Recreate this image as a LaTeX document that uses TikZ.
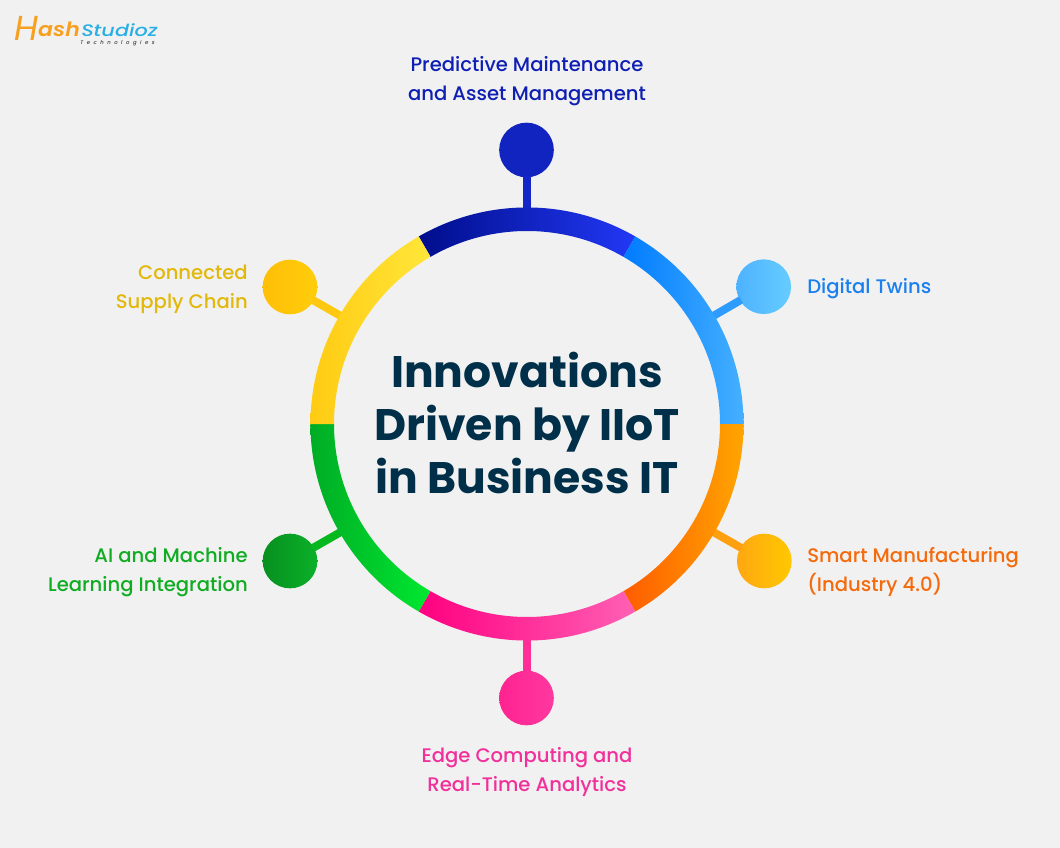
\documentclass[tikz,border=0pt]{standalone}
\usepackage{fontspec}
\setmainfont{Poppins}
\newfontfamily\labelfont{Poppins Medium}
\newfontfamily\titlefont{Poppins Bold}
\newfontfamily\logoH{Poppins Italic}
\newfontfamily\logoash[FakeStretch=1.12]{Poppins SemiBold Italic}
\newfontfamily\logostudio[FakeStretch=1.25]{Poppins Medium Italic}
\newfontfamily\logotiny[LetterSpace=66]{Poppins Medium Italic}
\usetikzlibrary{calc}
\definecolor{bgc}{HTML}{F1F1F1}
\definecolor{navy}{HTML}{003049}
\definecolor{lbblue}{HTML}{0F1FB4}
\definecolor{lbsky}{HTML}{1A7FEF}
\definecolor{lborange}{HTML}{F46A0C}
\definecolor{lbpink}{HTML}{F2309B}
\definecolor{lbgreen}{HTML}{10AC22}
\definecolor{lbyellow}{HTML}{E2B80A}
\definecolor{c1a}{HTML}{000E8C}\definecolor{c1b}{HTML}{2238F5}
\definecolor{c2a}{HTML}{007BFF}\definecolor{c2b}{HTML}{45B0FF}
\definecolor{c3a}{HTML}{FF5C00}\definecolor{c3b}{HTML}{FFA500}
\definecolor{c4a}{HTML}{FF0080}\definecolor{c4b}{HTML}{FF60B4}
\definecolor{c5a}{HTML}{00AC25}\definecolor{c5b}{HTML}{00E830}
\definecolor{c6a}{HTML}{FFCB12}\definecolor{c6b}{HTML}{FFE63A}
\definecolor{d1}{HTML}{1224C0}\definecolor{d2a}{HTML}{4DB2FF}\definecolor{d2b}{HTML}{66CCFF}
\definecolor{d3a}{HTML}{FFA712}\definecolor{d3b}{HTML}{FFC800}
\definecolor{d4a}{HTML}{FF2390}\definecolor{d4b}{HTML}{FF38A0}
\definecolor{d5a}{HTML}{07901F}\definecolor{d5b}{HTML}{0BB029}
\definecolor{d6a}{HTML}{FFBF08}\definecolor{d6b}{HTML}{FFCD0A}
\definecolor{s1}{HTML}{1426C8}\definecolor{s2}{HTML}{2E9BFF}\definecolor{s3}{HTML}{FFA010}
\definecolor{s4}{HTML}{FF2F97}\definecolor{s5}{HTML}{06B820}\definecolor{s6}{HTML}{FFC810}
\definecolor{logoO}{HTML}{F7A01E}\definecolor{logoB}{HTML}{28AFE6}\definecolor{logoK}{HTML}{3C3C3C}
\tikzset{
  px/.style={x=0.75pt,y=-0.75pt},
  lab/.style={font=\labelfont\fontsize{14.7}{21.75}\selectfont,inner sep=0pt},
  dot/.style={circle,minimum size=41pt,inner sep=0pt},
  stem/.style={line width=6pt,shorten <=-1pt}
}
\newcommand{\seg}[4]{%
  \shade[left color=#3,right color=#4]
    (#1:162.4pt) arc[start angle=#1,end angle=#2,radius=162.4pt]
    -- (#2:144.75pt) arc[start angle=#2,end angle=#1,radius=144.75pt] -- cycle;}
\begin{document}
\begin{tikzpicture}[px]
\useasboundingbox (0,0) rectangle (1060,848);
\fill[bgc] (0,0) rectangle (1060,848);
\coordinate (r1) at (526.5,215);
\coordinate (r2) at (708,319);
\coordinate (r3) at (708,529);
\coordinate (r4) at (526.5,633);
\coordinate (r5) at (346,529);
\coordinate (r6) at (346,319);
\node[dot,fill=d1] (n1) at (526.5,150) {};
\node[dot,left color=d2a,right color=d2b] (n2) at (763.7,286.7) {};
\node[dot,left color=d3a,right color=d3b] (n3) at (764.3,561) {};
\node[dot,left color=d4a,right color=d4b] (n4) at (526.5,698) {};
\node[dot,left color=d5a,right color=d5b] (n5) at (290,561) {};
\node[dot,left color=d6a,right color=d6b] (n6) at (290,287) {};
\draw[stem,s1] (n1) -- (r1);
\draw[stem,s2] (n2) -- (r2);
\draw[stem,s3] (n3) -- (r3);
\draw[stem,s4] (n4) -- (r4);
\draw[stem,s5] (n5) -- (r5);
\draw[stem,s6] (n6) -- (r6);
\begin{scope}[shift={(527,424)}]
\seg{60}{120}{c1a}{c1b}
\seg{0}{60}{c2a}{c2b}
\seg{-60}{0}{c3a}{c3b}
\seg{-120}{-60}{c4a}{c4b}
\seg{-180}{-120}{c5a}{c5b}
\seg{120}{180}{c6a}{c6b}
\end{scope}
\node[font=\titlefont\fontsize{33.1}{39.4}\selectfont,text=navy,align=center,inner sep=0pt] (title) at (527,423) {Innovations\\Driven by IIoT\\in Business IT};
\node[lab,text=lbblue,align=center] (t1) at (527,81) {Predictive Maintenance\\and Asset Management};
\node[lab,text=lbsky,anchor=west] (t2) at (807,289) {Digital Twins};
\node[lab,text=lborange,align=left,anchor=west] (t3) at (807,572) {Smart Manufacturing\\(Industry 4.0)};
\node[lab,text=lbpink,align=center] (t4) at (527,772) {Edge Computing and\\Real-Time Analytics};
\node[lab,text=lbgreen,align=right,anchor=east] (t5) at (248,572) {AI and Machine\\Learning Integration};
\node[lab,text=lbyellow,align=right,anchor=east] (t6) at (248,289) {Connected\\Supply Chain};
% logo
\node[text=logoO,anchor=base west,inner sep=0pt] (lh) at (14,37)
  {\raisebox{-3pt}{\logoH\fontsize{26}{26}\selectfont H}\logoash\fontsize{14.8}{14.8}\selectfont ash};
\node[font=\logostudio\fontsize{12.5}{12.5}\selectfont,text=logoB,anchor=base west,inner sep=0pt] (ls) at (81,37) {Studioz};
\node[font=\logotiny\fontsize{4}{4}\selectfont,text=logoK,anchor=base west,inner sep=0pt] (lt) at (80,44.5) {Technologies};
\end{tikzpicture}
\end{document}
